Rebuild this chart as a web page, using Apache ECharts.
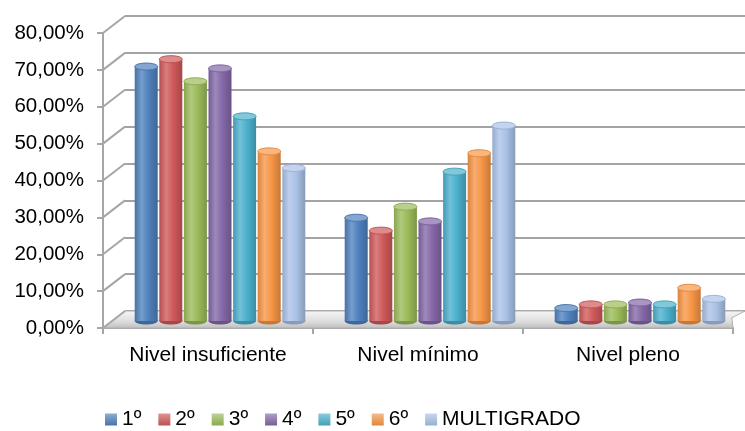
<!DOCTYPE html>
<html>
<head>
<meta charset="utf-8">
<script src="https://cdn.jsdelivr.net/npm/echarts@6/dist/echarts.min.js"></script>
<style>
  html, body { margin: 0; padding: 0; background: #ffffff; }
  #chart { width: 745px; height: 431px; }
</style>
</head>
<body>
<div id="chart"></div>
<script>
// Percentage of students per performance level, by grade
var categories = ['Nivel insuficiente', 'Nivel mínimo', 'Nivel pleno'];
var seriesNames = ['1º', '2º', '3º', '4º', '5º', '6º', 'MULTIGRADO'];
var grade1 = [69.0, 28.0, 3.5];
var grade2 = [71.0, 24.5, 4.5];
var grade3 = [65.0, 31.0, 4.5];
var grade4 = [68.5, 27.0, 5.0];
var grade5 = [55.5, 40.5, 4.5];
var grade6 = [46.0, 45.5, 9.0];
var multigrado = [41.5, 53.0, 6.0];
var yTicks = [0, 10, 20, 30, 40, 50, 60, 70, 80];

var seriesValues = [grade1, grade2, grade3, grade4, grade5, grade6, multigrado];
var colors = ['#4f81bd', '#d0595a', '#9bbb59', '#8468a8', '#4bb0cc', '#f79646', '#aac2e6'];

function hexToRgb(h) {
  h = h.replace('#', '');
  return [parseInt(h.substr(0, 2), 16), parseInt(h.substr(2, 2), 16), parseInt(h.substr(4, 2), 16)];
}
function mix(hex, target, t) {
  var a = hexToRgb(hex), b = hexToRgb(target);
  var c = a.map(function (v, i) { return Math.round(v + (b[i] - v) * t); });
  return 'rgb(' + c.join(',') + ')';
}
function lighter(hex, t) { return mix(hex, '#ffffff', t); }
function darker(hex, t) { return mix(hex, '#000000', t); }

var fontFamily = 'Liberation Sans, Arial, sans-serif';
var yMin = yTicks[0], yMax = yTicks[yTicks.length - 1], yStep = yTicks[1] - yTicks[0];
var groupFraction = 0.82;

// Cylinder-like column drawn per data item
function makeRenderItem(idx) {
  return function (params, api) {
    var cat = api.value(0);
    var val = api.value(1);
    var top = api.coord([cat, val]);
    var base = api.coord([cat, 0]);
    var band = api.size([1, 0])[0];
    var groupW = band * groupFraction;
    var w = groupW / seriesNames.length;
    var x0 = top[0] - groupW / 2 + idx * w + 0.8;
    var bw = w - 1.6;
    var cx = x0 + bw / 2;
    var c = colors[idx];
    var ry = 3.5;
    var bodyFill = new echarts.graphic.LinearGradient(0, 0, 1, 0, [
      { offset: 0, color: darker(c, 0.12) },
      { offset: 0.3, color: lighter(c, 0.22) },
      { offset: 0.6, color: c },
      { offset: 1, color: darker(c, 0.2) }
    ]);
    return {
      type: 'group',
      children: [
        {
          type: 'ellipse',
          shape: { cx: cx, cy: base[1], rx: bw / 2, ry: ry },
          style: { fill: darker(c, 0.2) }
        },
        {
          type: 'rect',
          shape: { x: x0, y: top[1], width: bw, height: base[1] - top[1] },
          style: { fill: bodyFill }
        },
        {
          type: 'ellipse',
          shape: { cx: cx, cy: top[1], rx: bw / 2, ry: ry },
          style: { fill: lighter(c, 0.3), stroke: darker(c, 0.08), lineWidth: 1 }
        }
      ]
    };
  };
}

var series = seriesNames.map(function (name, i) {
  return {
    name: name,
    type: 'custom',
    xAxisIndex: 2,
    yAxisIndex: 2,
    renderItem: makeRenderItem(i),
    itemStyle: { color: colors[i] },
    encode: { x: 0, y: 1 },
    data: seriesValues[i].map(function (v, k) { return [k, v]; }),
    z: 5
  };
});

var legendData = seriesNames.map(function (name, i) {
  return {
    name: name,
    itemStyle: {
      color: new echarts.graphic.LinearGradient(0, 0, 0, 1, [
        { offset: 0, color: lighter(colors[i], 0.35) },
        { offset: 1, color: darker(colors[i], 0.1) }
      ])
    }
  };
});

var chart = echarts.init(document.getElementById('chart'), null, { renderer: 'canvas' });

var frontGrid = { left: 103, top: 33, width: 630, height: 295 };
var backGrid = { left: 125, top: 16, width: 640, height: 295 };
var barGrid = { left: 115, top: 26, width: 630, height: 295 };

var hiddenCat = { type: 'category', data: categories, show: false };
var hiddenVal = { type: 'value', min: yMin, max: yMax, interval: yStep, show: false };

chart.setOption({
  animation: false,
  backgroundColor: '#ffffff',
  grid: [frontGrid, backGrid, barGrid],
  legend: {
    data: legendData,
    left: 100,
    top: 404,
    icon: 'rect',
    itemWidth: 12,
    itemHeight: 12,
    itemGap: 17,
    textStyle: { fontFamily: fontFamily, fontSize: 21, color: '#000000' }
  },
  xAxis: [
    {
      type: 'category',
      gridIndex: 0,
      data: categories,
      axisLine: { lineStyle: { color: '#a6a6a6', width: 2 } },
      axisTick: { show: true, alignWithLabel: false, length: 6, lineStyle: { color: '#a6a6a6', width: 2 } },
      axisLabel: { fontFamily: fontFamily, fontSize: 21, color: '#000000', margin: 17 },
      splitLine: { show: false }
    },
    Object.assign({ gridIndex: 1 }, hiddenCat),
    Object.assign({ gridIndex: 2 }, hiddenCat)
  ],
  yAxis: [
    {
      type: 'value',
      gridIndex: 0,
      min: yMin,
      max: yMax,
      interval: yStep,
      axisLine: { show: true, lineStyle: { color: '#a6a6a6', width: 2 } },
      axisTick: { show: true, length: 6, lineStyle: { color: '#a6a6a6', width: 2 } },
      axisLabel: {
        fontFamily: fontFamily,
        fontSize: 20.5,
        color: '#000000',
        margin: 19,
        formatter: function (v) { return v.toFixed(2).replace('.', ',') + '%'; }
      },
      splitLine: { show: false }
    },
    {
      type: 'value',
      gridIndex: 1,
      min: yMin,
      max: yMax,
      interval: yStep,
      axisLine: { show: false },
      axisTick: { show: false },
      axisLabel: { show: false },
      splitLine: { show: true, lineStyle: { color: '#a3a3a3', width: 2 } }
    },
    Object.assign({ gridIndex: 2 }, hiddenVal)
  ],
  series: series
});

// Side wall and floor of the 3D frame, placed from the axis scales
function wallGraphics() {
  var items = [];
  var fl = frontGrid.left, bl = backGrid.left;
  var fr = frontGrid.left + frontGrid.width;
  var br = 745;
  var fy0 = chart.convertToPixel({ yAxisIndex: 0 }, yMin);
  var by0 = chart.convertToPixel({ yAxisIndex: 1 }, yMin);
  items.push({
    type: 'polygon',
    shape: { points: [[fl, fy0], [bl, by0], [br, by0], [br - (bl - fl) * 0.6, fy0 - (fy0 - by0) * 0.6], [fr, fy0]] },
    style: {
      fill: new echarts.graphic.LinearGradient(0, 0, 0, 1, [
        { offset: 0, color: '#f6f6f6' },
        { offset: 0.6, color: '#dedede' },
        { offset: 1, color: '#bdbdbd' }
      ]),
      stroke: '#b0b0b0',
      lineWidth: 1
    },
    z: 1
  });
  yTicks.forEach(function (v) {
    var fy = chart.convertToPixel({ yAxisIndex: 0 }, v);
    var by = chart.convertToPixel({ yAxisIndex: 1 }, v);
    items.push({
      type: 'line',
      shape: { x1: fl, y1: fy, x2: bl, y2: by },
      style: { stroke: '#a6a6a6', lineWidth: 2 },
      z: 2
    });
  });
  return items;
}
chart.setOption({ graphic: wallGraphics() });
</script>
</body>
</html>
